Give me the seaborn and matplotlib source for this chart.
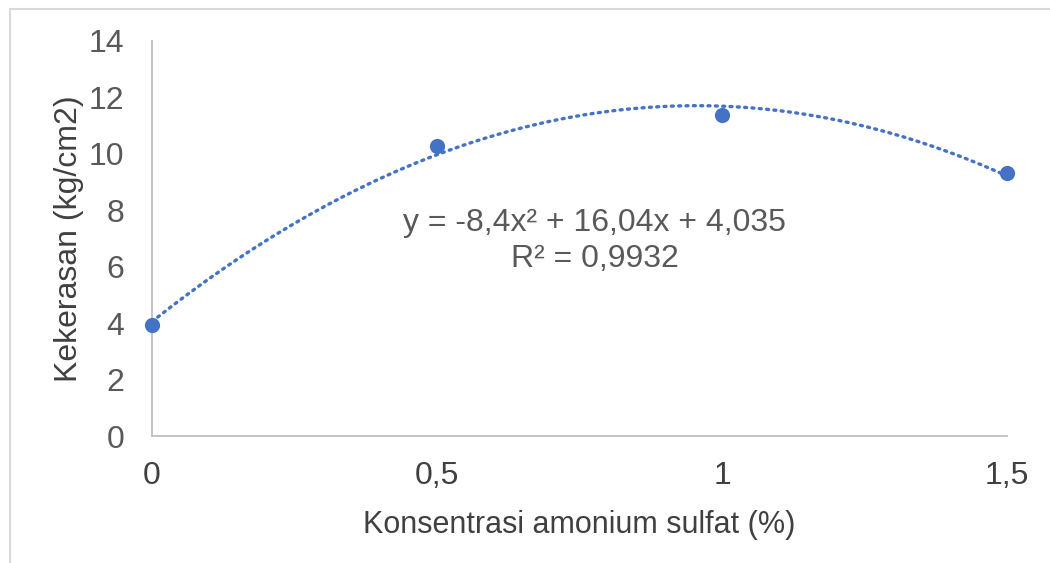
import matplotlib
matplotlib.use("Agg")
import matplotlib.pyplot as plt
import seaborn as sns
import pandas as pd
from matplotlib.patches import Rectangle

konsentrasi = [0, 0.5, 1, 1.5]
kekerasan = [3.95, 10.28, 11.38, 9.32]
x_ticks = [0, 0.5, 1, 1.5]
x_ticklabels = ["0", "0,5", "1", "1,5"]
y_ticks = [0, 2, 4, 6, 8, 10, 12, 14]
equation_text = "y = -8,4x² + 16,04x + 4,035\nR² = 0,9932"

sns.set_theme(style="white")
plt.rcParams["font.family"] = ["Liberation Sans", "DejaVu Sans"]

df = pd.DataFrame({"x": konsentrasi, "y": kekerasan})

fig = plt.figure(figsize=(10.5, 5.63), dpi=100)
ax = fig.add_axes([152/1050, 1 - 436/563, (1007-152)/1050, (436-41)/563])

blue = "#4472C4"
sns.regplot(data=df, x="x", y="y", order=2, ci=None, ax=ax,
            scatter_kws={"s": 120, "color": blue, "edgecolor": blue, "linewidths": 0,
                         "zorder": 3, "alpha": 1, "clip_on": False},
            line_kws={"color": blue, "lw": 2.4, "linestyle": (0, (0.6, 1.6)),
                      "dash_capstyle": "round", "zorder": 2, "clip_on": False})

ax.set_xlim(0, 1.5)
ax.set_ylim(0, 14)
ax.set_xticks(x_ticks)
ax.set_xticklabels(x_ticklabels)
ax.set_yticks(y_ticks)
ax.tick_params(axis="y", length=0, pad=20, labelsize=23, labelcolor="#595959")
ax.tick_params(axis="x", length=0, pad=18, labelsize=23, labelcolor="#404040")
for s in ["top", "right"]:
    ax.spines[s].set_visible(False)
for s in ["left", "bottom"]:
    ax.spines[s].set_color("#BFBFBF")
    ax.spines[s].set_linewidth(1.3)
    ax.spines[s].set_zorder(1)

ax.set_xlabel("Konsentrasi amonium sulfat (%)", fontsize=22, color="#404040", labelpad=14)
ax.set_ylabel("Kekerasan (kg/cm2)", fontsize=23, color="#404040", labelpad=3)

ax.text(0.777, 6.9, equation_text, ha="center", va="center", fontsize=23,
        color="#595959", linespacing=1.27)

fig.patches.append(Rectangle((10/1050, -0.1), 1.2, 1 - 9/563 + 0.1,
                             transform=fig.transFigure, fill=False,
                             edgecolor="#D9D9D9", lw=1.5))

fig.savefig("out.png", dpi=100)
